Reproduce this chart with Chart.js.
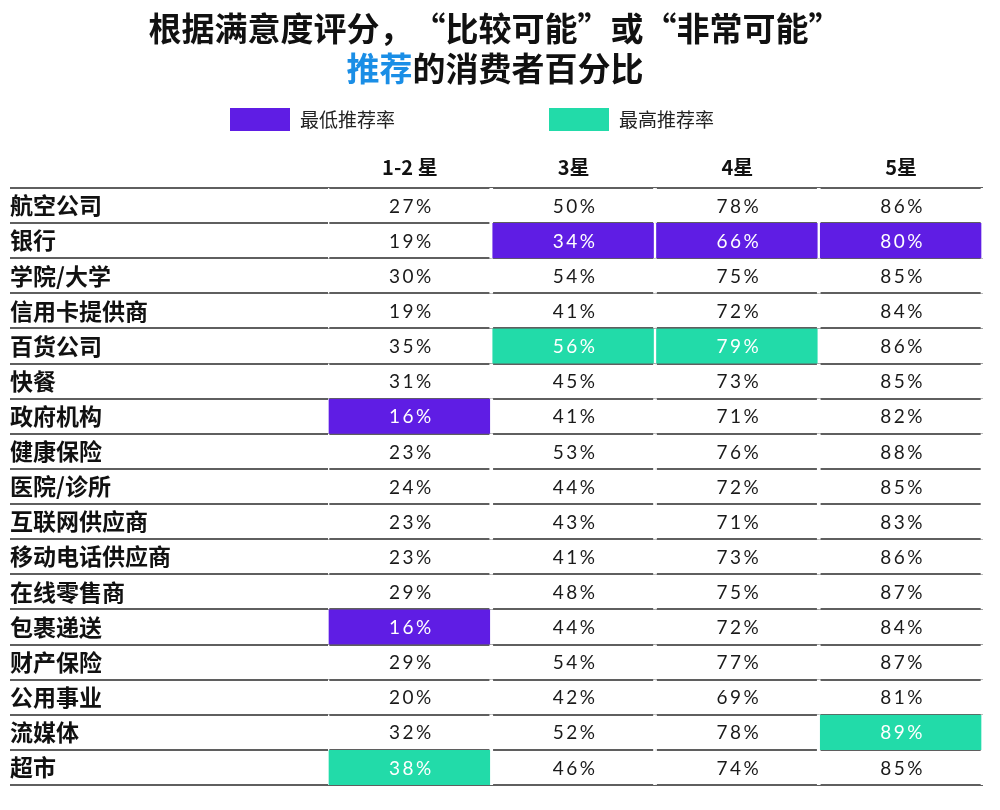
<!DOCTYPE html>
<html>
<head>
<meta charset="utf-8">
<script src="https://cdn.jsdelivr.net/npm/chart.js@4.4.1/dist/chart.umd.min.js"></script>
<style>
  body { margin: 0; background: #fff; }
  canvas { display: block; }
</style>
</head>
<body>
<canvas id="recChart" width="1000" height="810"></canvas>
<script>
// rows (industries) and columns (satisfaction rating)
var industries = ['航空公司', '银行', '学院/大学', '信用卡提供商', '百货公司', '快餐', '政府机构', '健康保险',
  '医院/诊所', '互联网供应商', '移动电话供应商', '在线零售商', '包裹递送', '财产保险', '公用事业', '流媒体', '超市'];
var ratings = ['1-2 星', '3星', '4星', '5星'];

// % likely / very likely to recommend
var star12 = [27, 19, 30, 19, 35, 31, 16, 23, 24, 23, 23, 29, 16, 29, 20, 32, 38];
var star3  = [50, 34, 54, 41, 56, 45, 41, 53, 44, 43, 41, 48, 44, 54, 42, 52, 46];
var star4  = [78, 66, 75, 72, 79, 73, 71, 76, 72, 71, 73, 75, 72, 77, 69, 78, 74];
var star5  = [86, 80, 85, 84, 86, 85, 82, 88, 85, 83, 86, 87, 84, 87, 81, 89, 85];
var columns = [star12, star3, star4, star5];

var legendLabels = ['最低推荐率', '最高推荐率'];
var lowColor = '#5f1de4';
var highColor = '#22dba9';
var blue = '#1a8ee6';
var cjk = '"Noto Sans CJK SC", "Noto Sans", sans-serif';

// one dataset per column, cell colored if it is the column min / max
var datasets = columns.map(function (vals, j) {
  var mn = Math.min.apply(null, vals), mx = Math.max.apply(null, vals);
  return {
    label: ratings[j],
    data: vals.map(function () { return [j, j + 1]; }),
    values: vals,
    backgroundColor: vals.map(function (v) {
      return v === mn ? lowColor : (v === mx ? highColor : 'rgba(0,0,0,0)');
    }),
    borderColor: '#ffffff',
    borderWidth: { left: 1, right: 2, top: 0, bottom: 0 },
    borderSkipped: false,
    grouped: false,
    barPercentage: 1,
    categoryPercentage: 1
  };
});

var headerPlugin = {
  id: 'header',
  afterDraw: function (chart) {
    var ctx = chart.ctx;
    ctx.save();
    ctx.textBaseline = 'middle';
    ctx.font = 'bold 33px ' + cjk;
    ctx.fillStyle = '#111';
    ctx.textAlign = 'center';
    ctx.fillText('根据满意度评分，“比较可能”或“非常可能”', 495, 28);
    var a = '推荐', b = '的消费者百分比';
    var wa = ctx.measureText(a).width, wb = ctx.measureText(b).width;
    var x0 = 495 - (wa + wb) / 2;
    ctx.textAlign = 'left';
    ctx.fillStyle = blue;
    ctx.fillText(a, x0, 68);
    ctx.fillStyle = '#111';
    ctx.fillText(b, x0 + wa, 68);

    // legend
    var items = [[230, lowColor], [549, highColor]];
    ctx.font = '19px ' + cjk;
    items.forEach(function (it, k) {
      ctx.fillStyle = it[1];
      ctx.fillRect(it[0], 108, 60, 23);
      ctx.fillStyle = '#222';
      ctx.fillText(legendLabels[k], it[0] + 70, 120);
    });
    ctx.restore();
  }
};

var cellText = {
  id: 'cellText',
  afterDraw: function (chart) {
    var ctx = chart.ctx, xs = chart.scales.x, ys = chart.scales.y;
    ctx.save();
    ctx.font = '19px Lato, "Open Sans", sans-serif';
    ctx.letterSpacing = '2.5px';
    ctx.textAlign = 'center';
    ctx.textBaseline = 'middle';
    chart.data.datasets.forEach(function (ds, j) {
      ds.values.forEach(function (v, i) {
        var filled = ds.backgroundColor[i] !== 'rgba(0,0,0,0)';
        ctx.fillStyle = filled ? '#ffffff' : '#1a1a1a';
        ctx.fillText(v + '%', xs.getPixelForValue(j + 0.5) + 1.5, ys.getPixelForValue(i) + 1);
      });
    });
    ctx.restore();
  }
};

new Chart(document.getElementById('recChart'), {
  type: 'bar',
  data: { labels: industries, datasets: datasets },
  options: {
    indexAxis: 'y',
    responsive: false,
    animation: false,
    layout: { padding: { top: 154, left: 10, right: 17, bottom: 25 } },
    plugins: {
      legend: { display: false },
      tooltip: { enabled: false }
    },
    scales: {
      x: {
        type: 'linear',
        position: 'top',
        min: 0,
        max: 4,
        grid: { display: false },
        border: { display: false },
        afterBuildTicks: function (scale) {
          scale.ticks = ratings.map(function (r, i) { return { value: i + 0.5 }; });
        },
        ticks: {
          autoSkip: false,
          maxRotation: 0,
          padding: 1,
          color: '#111',
          font: { family: cjk, size: 20, weight: 'bold' },
          callback: function (v, i) { return ratings[i]; }
        }
      },
      y: {
        z: 1,
        afterFit: function (scale) { scale.width = 318; },
        grid: {
          offset: true,
          color: '#5f5f5f',
          lineWidth: 2,
          drawTicks: true,
          tickLength: 318
        },
        border: { display: false },
        ticks: {
          crossAlign: 'far',
          color: '#111',
          font: { family: cjk, size: 23, weight: 'bold' }
        }
      }
    }
  },
  plugins: [headerPlugin, cellText]
});
</script>
</body>
</html>
